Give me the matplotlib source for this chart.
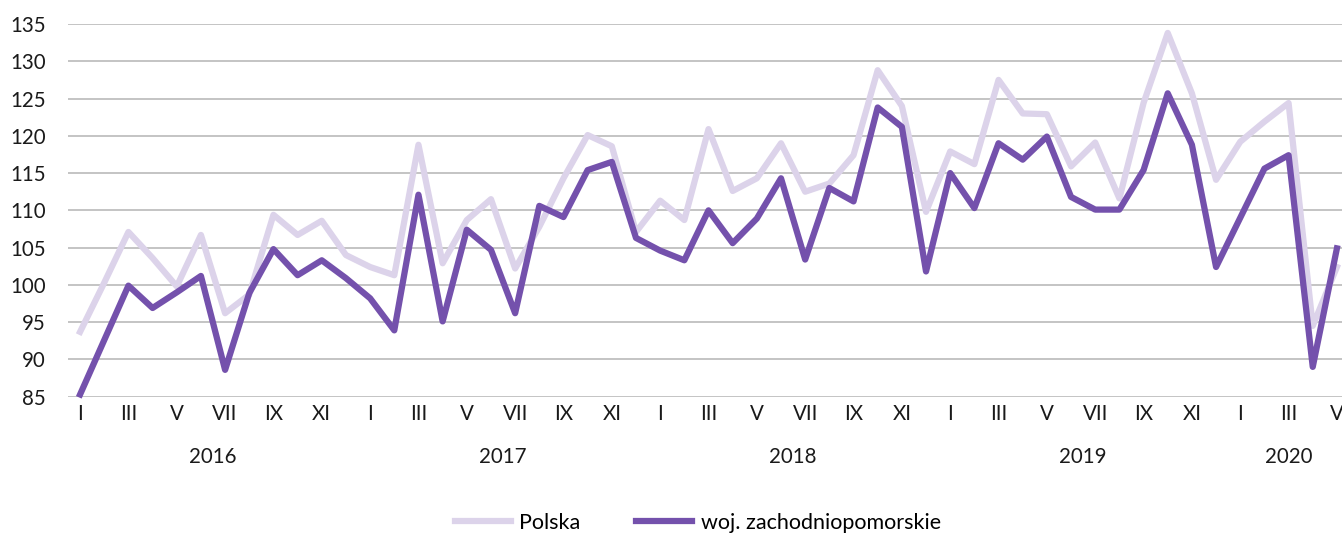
import matplotlib.pyplot as plt
import matplotlib.transforms as mtransforms

# ------------------------------------  data  ---------------------------------------------------------
months = ["I", "II", "III", "IV", "V", "VI", "VII", "VIII", "IX", "X", "XI", "XII"]
years = ["2016", "2017", "2018", "2019", "2020"]
months_per_year = [12, 12, 12, 12, 5]

polska = [93.7, 100.3, 107.1, 103.6, 99.8, 106.7, 96.2, 98.7, 109.4, 106.7, 108.6, 104.0,
          102.4, 101.3, 118.8, 102.9, 108.7, 111.5, 102.2, 107.8, 114.3, 120.1, 118.6, 107.1,
          111.3, 108.7, 120.9, 112.6, 114.3, 119.0, 112.5, 113.6, 117.4, 128.8, 124.0, 109.8,
          117.9, 116.2, 127.5, 123.0, 122.9, 115.9, 119.1, 111.6, 124.4, 133.8, 125.7, 114.1,
          119.2, 121.9, 124.4, 94.5, 102.4]

zachodniopomorskie = [85.3, 92.6, 99.9, 96.9, 99.0, 101.2, 88.6, 98.9, 104.8, 101.3, 103.3, 100.9,
                      98.2, 93.9, 112.1, 95.1, 107.4, 104.7, 96.2, 110.6, 109.1, 115.4, 116.5, 106.3,
                      104.6, 103.3, 110.0, 105.6, 108.9, 114.3, 103.4, 113.0, 111.2, 123.8, 121.2, 101.8,
                      115.0, 110.3, 119.0, 116.8, 119.9, 111.8, 110.1, 110.1, 115.4, 125.7, 118.8, 102.4,
                      109.0, 115.6, 117.4, 89.0, 104.9]

# month labels for every point (every second one is shown)
tick_labels = []
for n in months_per_year:
    tick_labels += months[:n]

light_col = "#DCD3EA"
dark_col = "#7451AC"
fs = 14.8

plt.rcParams['font.family'] = ['Lato', 'DejaVu Sans']

# ------------------------------------  plot  ---------------------------------------------------------
fig = plt.figure(figsize=(13.42, 5.35), dpi=100)
ax = fig.add_axes([68 / 1342, 1 - 396.7 / 535, (1349 - 68) / 1342, (396.7 - 24) / 535])

x = list(range(len(polska)))
ax.plot(x, polska, color=light_col, lw=4.5, solid_joinstyle='round', label="Polska", clip_on=False)
ax.plot(x, zachodniopomorskie, color=dark_col, lw=4.5, solid_joinstyle='round',
        label="woj. zachodniopomorskie", clip_on=False)

ax.set_xlim(-0.5, 52.5)
ax.set_ylim(85, 135)
ax.set_yticks(range(85, 136, 5))
ax.yaxis.grid(True, color="#C4C4C4", lw=1.4)
ax.set_axisbelow(True)

ax.set_xticks(x[::2])
ax.set_xticklabels(tick_labels[::2])

for side in ["top", "right", "left", "bottom"]:
    ax.spines[side].set_visible(False)

ax.tick_params(axis='y', length=0, pad=16, labelsize=fs, labelcolor="#1a1a1a")
ax.tick_params(axis='x', length=0, pad=5, labelsize=fs, labelcolor="#1a1a1a")

# year labels under the month labels
trans = mtransforms.blended_transform_factory(ax.transData, ax.transAxes)
start = 0
for year, n in zip(years, months_per_year):
    center = start + (n - 1) / 2
    ax.text(center, -0.162, year, transform=trans, ha='center', va='center',
            fontsize=fs, color="#1a1a1a")
    start += n

fig.legend(loc='center', bbox_to_anchor=(0.52, 1 - 523 / 535), ncol=2, frameon=False,
           fontsize=15.5, handlelength=2.6, columnspacing=2.6, handletextpad=0.4)

fig.savefig("out.png", dpi=100)
